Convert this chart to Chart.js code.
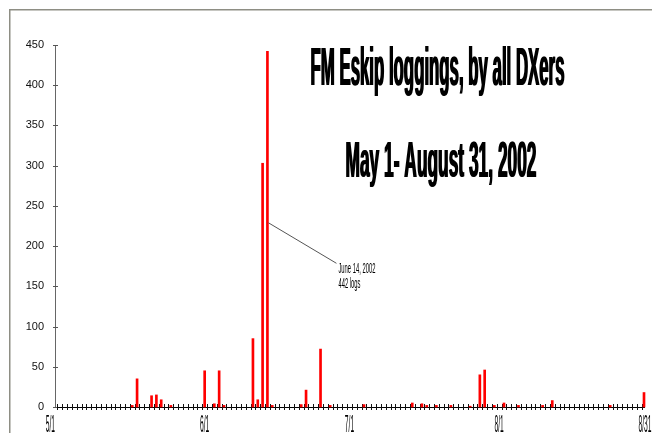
<!DOCTYPE html>
<html>
<head>
<meta charset="utf-8">
<title>FM Eskip loggings 2002</title>
<script src="https://cdn.jsdelivr.net/npm/chart.js@4.4.1/dist/chart.umd.min.js"></script>
<style>
  html, body { margin: 0; padding: 0; background: #fff; }
  #wrap { width: 652px; height: 433px; }
</style>
</head>
<body>
<div id="wrap"><canvas id="chart" width="652" height="433"></canvas></div>
<script>
// Daily FM Es loggings, May 1 - Aug 31 2002. Days not listed had no logs.
const months = [5, 6, 7, 8];
const monthLengths = [31, 30, 31, 31];

const loggedDays = [
  "5/17", "5/18", "5/21", "5/22", "5/23", "5/25",
  "6/1", "6/3", "6/4", "6/5", "6/11", "6/12", "6/13", "6/14", "6/15",
  "6/21", "6/22", "6/25", "6/27",
  "7/4", "7/14", "7/16", "7/17", "7/19", "7/22", "7/26", "7/28", "7/29", "7/31",
  "8/2", "8/5", "8/10", "8/12", "8/24", "8/31"
];
const loggedCounts = [
  2, 35, 14, 15, 9, 2,
  45, 4, 45, 2, 85, 9, 303, 442, 2,
  3, 21, 72, 2,
  3, 5, 4, 2, 2, 2, 1, 40, 46, 2,
  5, 2, 2, 8, 2, 18
];

const tickLabels = ["5/1", "6/1", "7/1", "8/1", "8/31"];
const titleLines = ["FM Eskip loggings, by all DXers", "May 1- August 31, 2002"];
const peakDay = "6/14";
const peakNote = ["June 14, 2002", "442 logs"];

// one category per day
const days = [];
months.forEach(function (m, k) {
  for (let d = 1; d <= monthLengths[k]; d++) days.push(m + "/" + d);
});
const counts = days.map(function (d) {
  const k = loggedDays.indexOf(d);
  return k < 0 ? null : loggedCounts[k];
});

const FONT = "'Liberation Sans', Arial, sans-serif";

// squeezed text, the original uses a very narrow display face
function squeezeText(ctx, text, x, y, size, sx, align, bold, weight) {
  ctx.save();
  ctx.font = (weight || "normal") + " " + size + "px " + FONT;
  ctx.textBaseline = "alphabetic";
  ctx.textAlign = "left";
  const w = ctx.measureText(text).width;
  let x0 = 0;
  if (align === "center") x0 = -w / 2;
  if (align === "right") x0 = -w;
  ctx.translate(x, y);
  ctx.scale(sx, 1);
  for (let b = 0; b <= bold; b++) ctx.fillText(text, x0 + b / sx, 0);
  ctx.restore();
}

function fitScale(ctx, text, size, width, weight) {
  ctx.save();
  ctx.font = (weight || "normal") + " " + size + "px " + FONT;
  const w = ctx.measureText(text).width;
  ctx.restore();
  return width / w;
}

const decorPlugin = {
  id: "decor",
  beforeDraw: function (chart) {
    const ctx = chart.ctx;
    ctx.save();
    ctx.fillStyle = "#fff";
    ctx.fillRect(0, 0, chart.width, chart.height);
    // window frame
    ctx.strokeStyle = "#8e8e84";
    ctx.lineWidth = 1.5;
    ctx.beginPath();
    ctx.moveTo(9.75, chart.height);
    ctx.lineTo(9.75, 9.75);
    ctx.lineTo(chart.width, 9.75);
    ctx.stroke();
    ctx.restore();
  },
  beforeDatasetsDraw: function (chart) {
    const ctx = chart.ctx;
    const x = chart.scales.x;
    const y = chart.scales.y;
    const area = chart.chartArea;
    ctx.save();
    ctx.lineWidth = 1;
    // y tick marks crossing the axis
    ctx.strokeStyle = "#555";
    y.ticks.forEach(function (t) {
      const py = Math.round(y.getPixelForValue(t.value)) + 0.5;
      ctx.beginPath();
      ctx.moveTo(area.left - 2, py);
      ctx.lineTo(area.left + 3, py);
      ctx.stroke();
    });
    // day tick marks crossing the x axis
    ctx.strokeStyle = "#111";
    const step = x.getPixelForValue(1) - x.getPixelForValue(0);
    for (let i = 0; i < days.length - 1; i++) {
      const px = Math.round(x.getPixelForValue(i) + step / 2) + 0.5;
      ctx.beginPath();
      ctx.moveTo(px, area.bottom - 3);
      ctx.lineTo(px, area.bottom + 3);
      ctx.stroke();
    }
    ctx.restore();
  },
  afterDatasetsDraw: function (chart) {
    const ctx = chart.ctx;
    const x = chart.scales.x;
    const y = chart.scales.y;
    ctx.save();
    ctx.fillStyle = "#000";

    // x labels
    const sx = fitScale(ctx, "6/1", 24, 9.3);
    tickLabels.forEach(function (lab, k) {
      const px = x.getPixelForValue(days.indexOf(lab));
      const align = k === 0 ? "right" : "center";
      squeezeText(ctx, lab, k === tickLabels.length - 1 ? px + 1 : px, 432, 24, sx, align, 0);
    });

    // titles
    squeezeText(ctx, titleLines[0], 310, 85, 53, fitScale(ctx, titleLines[0], 53, 254, "bold"), "left", 1, "bold");
    squeezeText(ctx, titleLines[1], 345, 177, 50, fitScale(ctx, titleLines[1], 50, 191, "bold"), "left", 1, "bold");

    // callout for the peak day
    const bx = x.getPixelForValue(days.indexOf(peakDay)) + 1;
    const by = y.getPixelForValue(229);
    ctx.strokeStyle = "#555";
    ctx.lineWidth = 1;
    ctx.beginPath();
    ctx.moveTo(bx, by);
    ctx.lineTo(bx + 68, by + 40.5);
    ctx.stroke();
    const ns = fitScale(ctx, peakNote[0], 15, 37);
    squeezeText(ctx, peakNote[0], bx + 70, by + 50.5, 15, ns, "left", 0);
    squeezeText(ctx, peakNote[1], bx + 70, by + 65.5, 15, ns, "left", 0);
    ctx.restore();
  }
};

new Chart(document.getElementById("chart").getContext("2d"), {
  type: "bar",
  data: {
    labels: days,
    datasets: [{
      label: "Loggings",
      data: counts,
      backgroundColor: "#ff0000",
      borderWidth: 0,
      barThickness: 2,
      clip: 4
    }]
  },
  options: {
    responsive: false,
    animation: false,
    layout: { padding: { left: 0, right: 8, top: 45, bottom: 0 } },
    plugins: {
      legend: { display: false },
      tooltip: { enabled: false },
      title: { display: false }
    },
    scales: {
      x: {
        type: "category",
        offset: false,
        grid: { display: false },
        border: { display: true, color: "#000", width: 1 },
        ticks: { display: false },
        afterFit: function (s) { s.height = 26; }
      },
      y: {
        min: 0,
        max: 450,
        grid: { display: false },
        border: { display: true, color: "#666", width: 1 },
        ticks: {
          stepSize: 50,
          color: "#111",
          padding: 3,
          font: { size: 11, family: FONT }
        },
        afterFit: function (s) { s.width = 55; }
      }
    }
  },
  plugins: [decorPlugin]
});
</script>
</body>
</html>
